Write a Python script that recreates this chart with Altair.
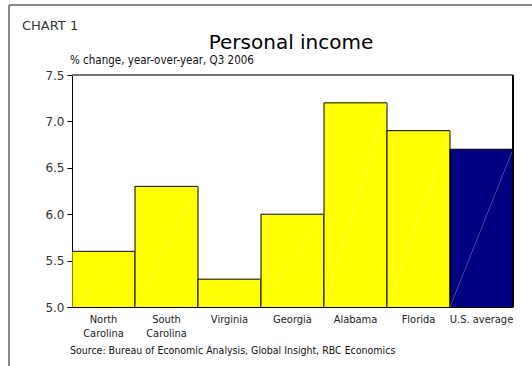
import altair as alt
import pandas as pd

# Personal income growth by state, Q3 2006
states = ["North Carolina", "South Carolina", "Virginia", "Georgia",
          "Alabama", "Florida", "U.S. average"]
growth = [5.6, 6.3, 5.3, 6.0, 7.2, 6.9, 6.7]
group = ["state", "state", "state", "state", "state", "state", "us"]
baseline = 5.0

df = pd.DataFrame({"state": states, "growth": growth, "group": group,
                   "base": [baseline] * len(states)})

W, H = 441, 232
NARROW = "DejaVu Sans Condensed, Liberation Sans, sans-serif"

x = alt.X("state:N", sort=states,
          scale=alt.Scale(paddingInner=0, paddingOuter=0),
          axis=alt.Axis(title=None, labelAngle=0, ticks=False, domainColor="black",
                        labelFont=NARROW, labelFontSize=11, labelColor="#222",
                        labelPadding=6, labelLineHeight=14,
                        labelExpr="indexof(datum.label, 'Carolina') > 0 ? split(datum.label, ' ') : datum.label"))
y = alt.Y("growth:Q",
          scale=alt.Scale(domain=[5.0, 7.5], zero=False, nice=False),
          axis=alt.Axis(title=None, values=[5.0, 5.5, 6.0, 6.5, 7.0, 7.5], format=".1f",
                        grid=False, tickSize=5, tickColor="black", domainColor="black",
                        labelFont="DejaVu Sans", labelFontSize=12, labelColor="#333",
                        labelPadding=3))

bars = alt.Chart(df).mark_bar(stroke="black", strokeWidth=1, clip=True).encode(
    x=x, y=y,
    color=alt.Color("group:N", scale=alt.Scale(domain=["state", "us"],
                                              range=["#ffff00", "#000080"]),
                    legend=None),
)

# faint diagonal sheen across each bar, bottom-left to top-right
sheen = alt.Chart(df).mark_rule(color="white", strokeWidth=0.8, opacity=0.35).encode(
    x=alt.X("state:N", sort=states, bandPosition=0),
    x2=alt.X2("state:N", bandPosition=1),
    y=alt.Y("base:Q"),
    y2=alt.Y2("growth:Q"),
)

# plot frame: grey top edge, black right edge
top_edge = alt.Chart(df).mark_rule(color="#777", strokeWidth=1).encode(
    x=alt.value(0), x2=alt.value(W), y=alt.value(0))
right_edge = alt.Chart(df).mark_rule(color="black", strokeWidth=1.5).encode(
    x=alt.value(W), y=alt.value(0), y2=alt.value(H))

# outer panel border
panel_top = alt.Chart(df).mark_rule(color="#888", strokeWidth=1.5).encode(
    x=alt.value(-63), x2=alt.value(470), y=alt.value(-70))
panel_left = alt.Chart(df).mark_rule(color="#888", strokeWidth=1.5).encode(
    x=alt.value(-63), y=alt.value(-70), y2=alt.value(300))

def label(text, xp, yp, size, font, color="#111", align="left"):
    return alt.Chart(pd.DataFrame({"t": [text]})).mark_text(
        align=align, baseline="alphabetic", fontSize=size, font=font, color=color
    ).encode(text="t:N", x=alt.value(xp), y=alt.value(yp))

chart_no = label("CHART 1", -50, -45, 13, "DejaVu Sans", "#333")
title = label("Personal income", 219, -26, 20, "DejaVu Sans", "black", "center")
subtitle = label("% change, year-over-year, Q3 2006", -2, -11, 11.5, NARROW, "#111")
source = label("Source:  Bureau of Economic Analysis, Global Insight, RBC Economics",
               -2, 279, 10.5, NARROW, "#111")

chart = alt.layer(
    bars, sheen, top_edge, right_edge, panel_top, panel_left,
    chart_no, title, subtitle, source
).properties(
    width=W, height=H,
    autosize=alt.AutoSizeParams(type="none"),
    padding={"left": 72, "top": 75, "right": 19, "bottom": 59},
).configure_view(stroke=None).configure(background="white")

chart.save("out.html", embed_options={"renderer": "svg", "actions": False})
